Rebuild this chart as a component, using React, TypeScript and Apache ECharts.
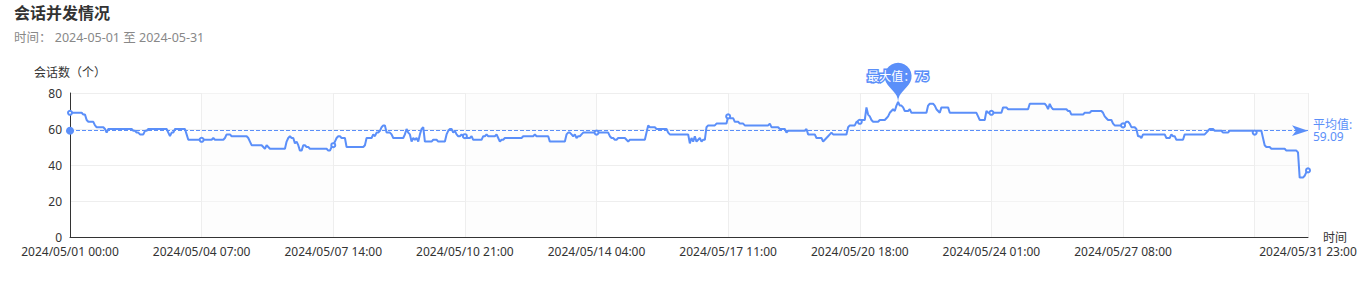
import React, { useEffect, useRef } from 'react';
import * as echarts from 'echarts';

const TITLE = '会话并发情况';
const SUBTITLE = '时间： 2024-05-01 至 2024-05-31';
const Y_NAME = '会话数（个）';
const X_NAME = '时间';
const MONTH_PREFIX = '2024/05/';
const HOURS = ['00', '01', '02', '03', '04', '05', '06', '07', '08', '09', '10', '11', '12', '13', '14', '15', '16', '17', '18', '19', '20', '21', '22', '23'];
const DAYS = ['01', '02', '03', '04', '05', '06', '07', '08', '09', '10', '11', '12', '13', '14', '15', '16', '17', '18', '19', '20', '21', '22', '23', '24', '25', '26', '27', '28', '29', '30', '31'];

// average shown on the reference's mark line
const AVERAGE_NAME = '平均值';
const AVERAGE_VALUE = 59.09;
const MAX_NAME = '最大值';

// hourly session counts, one array per day (00:00 .. 23:00)
const day01 = [69, 69, 69, 69, 69, 69, 69, 69, 68, 68, 65, 64, 64, 64, 64, 62, 61, 61, 61, 61, 61, 60, 58, 60];
const day02 = [60, 60, 60, 60, 60, 60, 60, 60, 60, 60, 60, 60, 60, 60, 59, 59, 58, 58, 57, 57, 57, 59, 59, 60];
const day03 = [60, 60, 60, 60, 60, 60, 60, 60, 60, 60, 60, 58, 56, 58, 58, 60, 60, 60, 60, 60, 60, 60, 57, 54];
const day04 = [54, 54, 54, 54, 54, 54, 54, 54, 54, 54, 54, 54, 54, 54, 55, 54, 54, 54, 54, 54, 54, 55, 57, 57];
const day05 = [57, 56, 56, 56, 56, 56, 56, 56, 56, 56, 56, 55, 53, 51, 51, 51, 51, 51, 51, 51, 50, 49, 51, 50];
const day06 = [49, 49, 49, 49, 49, 49, 49, 49, 49, 49, 53, 55, 56, 55, 55, 52, 53, 51, 48, 48, 51, 51, 50, 50];
const day07 = [49, 49, 49, 49, 49, 49, 49, 49, 49, 49, 49, 48, 48, 50, 51, 53, 55, 56, 56, 55, 55, 55, 50, 50];
const day08 = [50, 50, 50, 50, 50, 50, 50, 50, 50, 51, 55, 55, 55, 55, 57, 56, 58, 58, 59, 61, 62, 62, 58, 58];
const day09 = [58, 57, 55, 55, 55, 55, 55, 55, 55, 57, 60, 58, 57, 53, 55, 54, 55, 53, 57, 60, 61, 53, 53, 53];
const day10 = [53, 53, 54, 54, 54, 53, 53, 53, 53, 53, 57, 59, 60, 60, 58, 59, 57, 56, 56, 57, 56, 56, 55, 55];
const day11 = [55, 56, 54, 54, 54, 54, 54, 54, 56, 56, 57, 56, 56, 56, 56, 56, 57, 55, 53, 54, 54, 55, 55, 55];
const day12 = [55, 55, 55, 55, 55, 55, 55, 55, 56, 56, 56, 56, 56, 56, 56, 57, 56, 56, 56, 56, 56, 56, 56, 56];
const day13 = [53, 53, 53, 53, 53, 53, 53, 53, 53, 53, 57, 58, 58, 57, 56, 57, 55, 56, 56, 57, 58, 58, 58, 58];
const day14 = [58, 58, 58, 58, 58, 58, 58, 58, 58, 58, 58, 58, 56, 55, 55, 54, 54, 55, 55, 55, 55, 55, 54, 53];
const day15 = [54, 54, 54, 54, 54, 54, 54, 54, 54, 54, 58, 62, 61, 61, 61, 61, 60, 60, 60, 60, 60, 60, 60, 58];
const day16 = [57, 57, 57, 57, 57, 57, 57, 57, 57, 57, 57, 57, 52, 55, 53, 56, 53, 54, 55, 53, 54, 54, 61, 62];
const day17 = [62, 62, 62, 62, 63, 63, 63, 63, 63, 63, 63, 67, 66, 66, 66, 64, 64, 64, 63, 63, 63, 62, 62, 62];
const day18 = [62, 62, 62, 62, 62, 62, 62, 62, 62, 62, 62, 62, 63, 61, 61, 61, 61, 61, 60, 60, 60, 60, 58, 59];
const day19 = [59, 59, 59, 59, 59, 59, 59, 59, 59, 59, 60, 57, 57, 57, 57, 57, 55, 55, 55, 55, 53, 54, 55, 56];
const day20 = [57, 58, 57, 57, 57, 57, 57, 57, 57, 57, 57, 61, 62, 62, 62, 62, 64, 64, 64, 65, 65, 65, 72, 68];
const day21 = [67, 65, 64, 64, 64, 64, 65, 65, 65, 65, 66, 67, 69, 70, 71, 70, 73, 75, 73, 73, 72, 70, 70, 70];
const day22 = [71, 69, 69, 69, 69, 69, 69, 69, 69, 69, 69, 73, 74, 74, 74, 73, 71, 70, 69, 72, 72, 72, 72, 72];
const day23 = [69, 69, 69, 69, 69, 69, 69, 69, 69, 69, 69, 69, 69, 69, 69, 69, 69, 67, 65, 65, 65, 65, 70, 69];
const day24 = [69, 69, 69, 69, 69, 69, 69, 69, 72, 72, 72, 71, 71, 71, 71, 71, 71, 71, 71, 71, 71, 71, 71, 71];
const day25 = [74, 74, 74, 74, 74, 74, 74, 74, 74, 74, 73, 71, 74, 72, 71, 71, 71, 71, 71, 71, 71, 71, 71, 70];
const day26 = [70, 68, 68, 68, 68, 68, 68, 68, 68, 69, 69, 69, 69, 70, 70, 70, 70, 70, 70, 70, 69, 67, 66, 65];
const day27 = [65, 65, 63, 62, 62, 62, 62, 62, 62, 63, 64, 64, 63, 61, 61, 61, 60, 56, 56, 55, 57, 57, 57, 57];
const day28 = [57, 57, 57, 57, 57, 57, 57, 57, 57, 57, 55, 55, 55, 57, 56, 56, 54, 54, 54, 54, 54, 57, 57, 57];
const day29 = [57, 57, 57, 57, 57, 57, 57, 57, 57, 57, 58, 59, 60, 60, 60, 59, 59, 59, 59, 59, 58, 58, 58, 58];
const day30 = [59, 59, 59, 59, 59, 59, 59, 59, 59, 59, 59, 59, 59, 59, 59, 58, 59, 59, 59, 59, 55, 51, 50, 50];
const day31 = [50, 49, 49, 49, 49, 49, 49, 49, 49, 49, 48, 48, 48, 48, 48, 48, 48, 47, 33, 33, 33, 34, 36, 37];

const dailyValues = [day01, day02, day03, day04, day05, day06, day07, day08, day09, day10, day11, day12, day13, day14, day15, day16, day17, day18, day19, day20, day21, day22, day23, day24, day25, day26, day27, day28, day29, day30, day31];

const categories: string[] = [];
DAYS.forEach((d) => HOURS.forEach((h) => categories.push(`${MONTH_PREFIX}${d} ${h}:00`)));
const values: number[] = ([] as number[]).concat(...dailyValues);

const BLUE = '#5B8FF9';
const FONT = '"Noto Sans", "Noto Sans CJK SC", sans-serif';

export default function App() {
  const ref = useRef<HTMLDivElement>(null);
  useEffect(() => {
    if (!ref.current) return;
    const chart = echarts.init(ref.current, undefined, { renderer: 'svg' });
    chart.setOption({
      animation: false,
      backgroundColor: '#fff',
      textStyle: { fontFamily: FONT },
      title: {
        text: TITLE,
        subtext: SUBTITLE,
        left: 14,
        top: 5,
        padding: 0,
        itemGap: 10,
        textStyle: { fontSize: 16, fontWeight: 'bold', color: '#333', fontFamily: FONT },
        subtextStyle: { fontSize: 12.5, color: '#888', fontFamily: FONT },
      },
      grid: { left: 70, right: 62, top: 93, bottom: 45 },
      xAxis: {
        type: 'category',
        data: categories,
        boundaryGap: false,
        name: X_NAME,
        nameGap: 15,
        nameTextStyle: { color: '#333', fontSize: 12 },
        axisLine: { show: true, lineStyle: { color: '#333' } },
        axisTick: { show: false },
        axisLabel: { interval: 78, showMaxLabel: true, color: '#333', fontSize: 12, margin: 8 },
        splitLine: { show: true, interval: 78, lineStyle: { color: '#eeeeee' } },
        splitArea: { show: true, interval: 78, areaStyle: { color: ['rgba(255,255,255,0)', 'rgba(250,250,250,0.4)'] } },
      },
      yAxis: {
        type: 'value',
        min: 0,
        max: 80,
        interval: 20,
        name: Y_NAME,
        nameGap: 15,
        nameTextStyle: { color: '#333', fontSize: 12 },
        axisLine: { show: true, lineStyle: { color: '#333' } },
        axisTick: { show: false },
        axisLabel: { color: '#333', fontSize: 12, margin: 8 },
        splitLine: { show: true, lineStyle: { color: '#eeeeee' } },
      },
      series: [
        {
          type: 'line',
          data: values,
          color: BLUE,
          lineStyle: { width: 2, color: BLUE },
          itemStyle: { color: BLUE },
          symbol: 'emptyCircle',
          symbolSize: 4,
          showAllSymbol: 'auto',
          markPoint: {
            symbol: 'pin',
            symbolSize: 45,
            data: [{ type: 'max', name: MAX_NAME }],
            label: {
              formatter: '{b}：{c}',
              fontSize: 12,
              color: '#fff',
              textBorderColor: BLUE,
              textBorderWidth: 3,
              offset: [0, -2],
            },
            itemStyle: { color: BLUE },
          },
          markLine: {
            symbol: ['circle', 'arrow'],
            data: [{ name: AVERAGE_NAME, yAxis: AVERAGE_VALUE }],
            label: { formatter: '{b}:\n{c}', color: BLUE, fontSize: 12 },
            lineStyle: { type: 'dashed', color: BLUE, width: 1 },
          },
        },
      ],
    });
    return () => chart.dispose();
  }, []);
  return <div ref={ref} style={{ position: 'absolute', left: 0, top: 0, width: 1370, height: 282 }} />;
}
